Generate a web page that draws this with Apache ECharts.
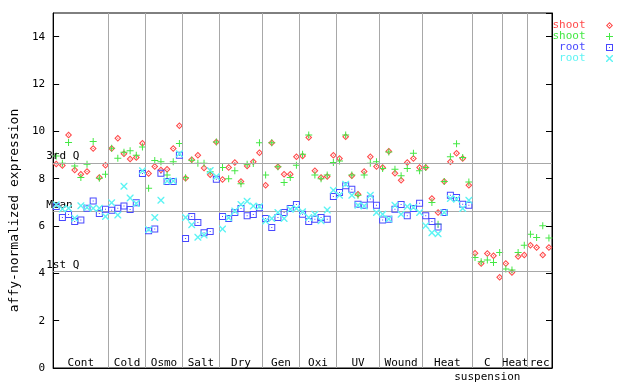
<!DOCTYPE html>
<html>
<head>
<meta charset="utf-8">
<script src="https://cdn.jsdelivr.net/npm/echarts@6/dist/echarts.min.js"></script>
<style>html,body{margin:0;padding:0;background:#fff}#c{width:640px;height:384px}</style>
</head>
<body>
<div id="c"></div>
<script>
// ---- data ----
const groupLabels = ['Cont','Cold','Osmo','Salt','Dry','Gen','Oxi','UV','Wound','Heat','C\nsuspension','Heat','rec'];
const groupSizes = [9,6,6,6,7,6,6,7,7,8,5,4,4];
const shootRep1 = [8.62,8.56,9.84,8.37,8.19,8.30,9.27,8.05,8.57,
  9.27,9.71,9.05,8.83,8.89,9.50,
  8.22,8.51,8.37,8.40,9.27,10.24,
  8.02,8.80,8.99,8.45,8.17,9.55,
  7.97,8.47,8.68,7.88,8.54,8.71,9.10,
  7.72,9.52,8.50,8.19,8.19,8.93,
  8.96,9.74,8.33,8.05,8.09,8.99,
  8.85,9.77,8.12,7.34,8.30,8.93,8.51,
  8.47,9.16,8.23,7.93,8.68,8.85,8.47,
  8.47,7.16,6.57,7.88,8.72,9.07,8.85,7.72,
  4.85,4.42,4.84,4.74,3.83,
  4.42,4.04,4.71,4.77,
  5.19,5.09,4.77,5.09];
const shootRep2 = [8.96,8.65,9.53,8.53,8.05,8.61,9.57,8.02,8.19,
  9.29,8.86,9.12,9.18,8.99,9.34,
  7.60,8.77,8.72,8.15,8.72,9.49,
  8.04,8.78,8.65,8.65,8.29,9.55,
  8.47,8.00,8.33,7.79,8.61,8.64,9.52,
  8.15,9.52,8.50,7.84,8.05,8.57,
  9.03,9.84,8.15,8.00,8.15,8.68,
  8.75,9.84,8.15,7.30,8.16,8.65,8.71,
  8.43,9.13,8.40,8.12,8.43,9.07,8.33,
  8.47,6.99,6.07,7.88,8.93,9.48,8.89,7.86,
  4.67,4.49,4.56,4.46,4.88,
  4.18,4.14,4.88,5.19,
  5.65,5.51,6.01,5.49];
const rootRep1 = [6.82,6.36,6.49,6.19,6.25,6.75,7.06,6.53,6.71,
  6.67,6.75,6.84,6.70,6.98,8.22,
  5.80,5.87,8.23,7.88,7.88,8.99,
  5.47,6.40,6.15,5.72,5.77,7.98,
  6.40,6.32,6.57,6.74,6.43,6.49,6.77,
  6.32,5.94,6.36,6.57,6.74,6.91,
  6.50,6.19,6.29,6.36,6.29,7.25,
  7.42,7.70,7.55,6.92,6.88,7.14,6.88,
  6.25,6.29,6.71,6.91,6.43,6.74,6.96,
  6.43,6.19,5.96,6.57,7.30,7.20,6.92,6.88];
const rootRep2 = [6.90,6.72,6.75,6.33,6.86,6.78,6.75,6.75,6.40,
  6.98,6.46,7.68,7.18,6.95,8.33,
  5.85,6.36,7.09,7.90,7.90,9.05,
  6.36,6.05,5.52,5.62,8.34,8.09,
  5.87,6.35,6.63,6.91,7.05,6.85,6.82,
  6.21,6.32,6.57,6.32,6.71,6.74,
  6.60,6.36,6.50,6.22,6.68,7.51,
  7.30,7.76,7.30,6.88,6.85,7.30,6.57,
  6.50,6.30,6.88,6.50,6.82,6.78,6.57,
  6.01,5.72,5.67,6.57,7.16,7.13,6.74,7.09];
const statLabels = ['3rd Q','Mean','1st Q'];
const statValues = [8.67, 6.62, 4.07];
const yTicks = [0,2,4,6,8,10,12,14];
const legendNames = ['shoot','shoot','root','root'];

// ---- derived ----
const nSamples = groupSizes.reduce((a,b)=>a+b,0);
const boundaries = [];
const centers = [];
let acc = 0;
groupSizes.forEach((s,k)=>{ centers.push(acc + s/2); acc += s; if (k < groupSizes.length-1) boundaries.push(acc); });
const toPts = arr => arr.map((v,i)=>[i+0.5, v]);

const colors = ['#ff4a4a','#44e844','#4848ff','#5ef4f4'];
const symDiamond = 'path://M3.5,0L7,3.5L3.5,7L0,3.5Z M3.5,1.5L1.5,3.5L3.5,5.5L5.5,3.5Z M3,3H4V4H3Z';
const symPlus = 'path://M3,0H4V3H7V4H4V7H3V4H0V3H3Z';
const symSquare = 'path://M0,0H7V7H0Z M1,1V6H6V1Z M3,3H4V4H3Z';
const symCross = 'path://M0,0L1,0L3.5,2.5L6,0L7,0L7,1L4.5,3.5L7,6L7,7L6,7L3.5,4.5L1,7L0,7L0,6L2.5,3.5L0,1Z';
const syms = [symDiamond, symPlus, symSquare, symCross];
const seriesData = [shootRep1, shootRep2, rootRep1, rootRep2];
const FONT = 'DejaVu Sans Mono';

const series = seriesData.map((arr,k)=>({
  name: legendNames[k] + '#' + k,
  type: 'scatter',
  data: toPts(arr),
  symbol: syms[k],
  symbolSize: 7,
  itemStyle: { color: colors[k], opacity: 1 },
  silent: true,
  z: 3 + k
}));
series.unshift({
  name: 'lines',
  type: 'scatter',
  data: [],
  silent: true,
  z: 1,
  markLine: {
    silent: true,
    symbol: 'none',
    animation: false,
    lineStyle: { color: '#a8a8a8', type: 'solid', width: 1 },
    label: { show: false },
    data: boundaries.map(b=>({ xAxis: b })).concat(statValues.map((v,k)=>({
      yAxis: v, name: statLabels[k],
      label: { show: true, position: 'insideStartTop', formatter: '{b}', color: '#000',
               fontFamily: FONT, fontSize: 11, distance: [-7, 1] }
    })))
  }
});

const chart = echarts.init(document.getElementById('c'), null, { renderer: 'canvas' });
chart.setOption({
  animation: false,
  backgroundColor: '#fff',
  grid: { left: 44, right: 88, top: 13, bottom: 15, show: true, borderColor: '#000', borderWidth: 1, backgroundColor: 'transparent' },
  legend: {
    orient: 'vertical',
    right: 22, top: 15,
    align: 'right',
    itemWidth: 38, itemHeight: 7, itemGap: 0,
    selectedMode: false,
    data: series.slice(1).map((s,k)=>({ name: s.name, icon: syms[k], textStyle: { color: colors[k] } })),
    formatter: n => n.split('#')[0],
    textStyle: { fontFamily: FONT, fontSize: 11 }
  },
  xAxis: {
    type: 'value', min: 0, max: nSamples,
    axisLine: { show: true, lineStyle: { color: '#000' } },
    axisTick: { show: false },
    splitLine: { show: false },
    axisLabel: {
      customValues: centers,
      formatter: v => { const k = centers.findIndex(c=>Math.abs(c-v)<1e-6); return k>=0 ? groupLabels[k] : ''; },
      margin: -12, color: '#000', fontFamily: FONT, fontSize: 11, lineHeight: 14
    }
  },
  yAxis: [{
    type: 'value', min: 0, max: 15, interval: 2,
    name: 'affy-normalized expression', nameLocation: 'middle', nameGap: 26,
    nameTextStyle: { fontFamily: FONT, fontSize: 13, color: '#000', padding: [0, 40, 0, 0] },
    axisLine: { show: true, lineStyle: { color: '#000' } },
    axisTick: { show: true, inside: true, length: 6, lineStyle: { color: '#000' } },
    splitLine: { show: false },
    axisLabel: { color: '#000', fontFamily: FONT, fontSize: 11, margin: 8, showMaxLabel: false,
      formatter: v => yTicks.includes(v) ? String(v) : '' }
  }, {
    type: 'value', min: 0, max: 15, interval: 2, position: 'right',
    axisLine: { show: true, lineStyle: { color: '#000' } },
    axisTick: { show: true, inside: true, length: 6, lineStyle: { color: '#000' } },
    splitLine: { show: false },
    axisLabel: { show: false }
  }],
  series: series
});
</script>
</body>
</html>
